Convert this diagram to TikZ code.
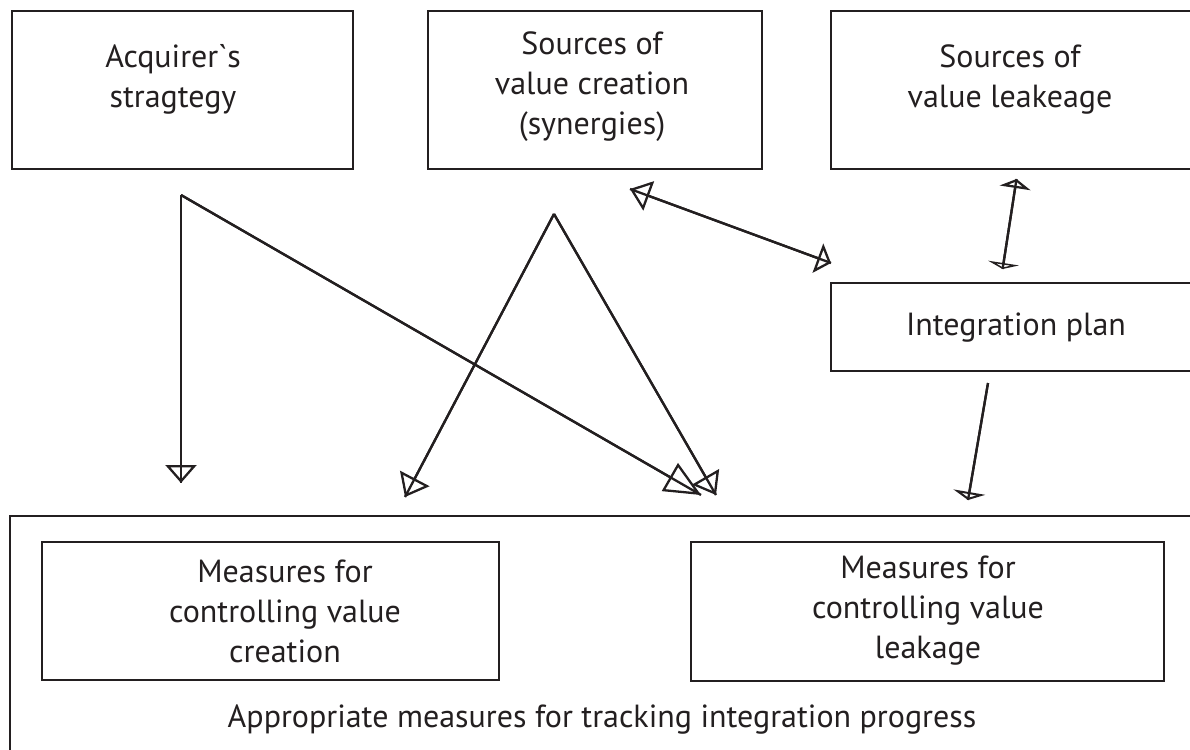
\documentclass[tikz,border=0pt]{standalone}
\usepackage{fontspec}
\newfontfamily\lab{PT Sans}[Ligatures=TeXOff]
\usetikzlibrary{arrows.meta}
\definecolor{ink}{HTML}{231F20}

\begin{document}
\begin{tikzpicture}[x=1pt,y=-1pt,
  box/.style={draw=ink, line width=2.6pt, inner sep=0pt},
  txt/.style={font=\lab\fontsize{32}{40}\selectfont, text=ink, align=center, inner sep=0pt},
  link/.style={draw=ink, line width=2.3pt, line join=miter},
  headto/.style={postaction={draw, -{Triangle[open,#1]}}},
  headboth/.style 2 args={postaction={draw, {Triangle[open,#1]}-{Triangle[open,#2]}}}
]
\useasboundingbox (0,0) rectangle (1190,749);
\clip (0,0) rectangle (1190,749);

% boxes
\node[box, minimum width=341pt, minimum height=158pt] (acq)   at (182.5,90) {};
\node[box, minimum width=334pt, minimum height=158pt] (syn)   at (595,90) {};
\node[box, minimum width=379pt, minimum height=158pt] (leak)  at (1020.5,90) {};
\node[box, minimum width=379pt, minimum height=88pt]  (plan)  at (1020.5,327) {};
\node[box, minimum width=1200pt, minimum height=254pt] (track) at (610,643) {};
\node[box, minimum width=457pt, minimum height=138pt] (mcre)  at (270.5,611) {};
\node[box, minimum width=473pt, minimum height=139pt] (mleak) at (927.5,611.5) {};

% labels
\node[txt] (tacq)   at (173,79.5)  {Acquirer\symbol{96}s\\stragtegy};
\node[txt] (tsyn)   at (592,86.5)  {Sources of\\value creation\\(synergies)};
\node[txt] (tleak)  at (1010,79.5) {Sources of\\value leakeage};
\node[txt] (tplan)  at (1016,328)  {Integration plan};
\node[txt] (tmcre)  at (285,611)   {Measures for\\controlling value\\creation};
\node[txt] (tmleak) at (928,611)   {Measures for\\controlling value\\leakage};
\node[txt] (ttrack) at (602,720)   {Appropriate measures for tracking integration progress};

% connector end points
\coordinate (s1) at (181,195);
\coordinate (e1) at (181,483);
\coordinate (e2) at (701,495);
\coordinate (v)  at (554,214);
\coordinate (e3) at (405,497);
\coordinate (e4) at (716,495);
\coordinate (d1) at (630,189);
\coordinate (d2) at (831,263);
\coordinate (u1) at (1016.5,179);
\coordinate (u2) at (1002.6,269);
\coordinate (p1) at (988,383);
\coordinate (p2) at (968,500);

% connectors
\draw[link, headto={length=18pt,width=31pt}] (s1) -- (e1);
\draw[link, headto={length=36pt,width=32pt}] (s1) -- (e2);
\draw[link, headto={length=21pt,width=33pt}] (v) -- (e3);
\draw[link, headto={length=21pt,width=31pt}] (v) -- (e4);
\draw[link, headboth={length=20pt,width=31pt}{length=14pt,width=31pt}] (d1) -- (d2);
\draw[link, headboth={length=9pt,width=31pt}{length=6pt,width=31pt}] (u1) -- (u2);
\draw[link, headto={length=8pt,width=32pt}] (p1) -- (p2);
\end{tikzpicture}
\end{document}
